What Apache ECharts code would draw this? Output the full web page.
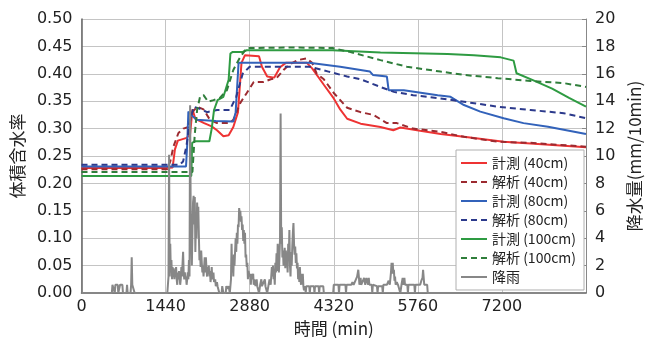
<!DOCTYPE html>
<html>
<head>
<meta charset="utf-8">
<script src="https://cdn.jsdelivr.net/npm/echarts@6/dist/echarts.min.js"></script>
<style>
  html, body { margin: 0; padding: 0; background: #fff; }
  #chart { width: 648px; height: 338px; }
</style>
</head>
<body>
<div id="chart"></div>
<script>
// [time (min), volumetric water content]
const measured40 = [[0,0.228],[1440,0.228],[1560,0.229],[1600,0.262],[1650,0.278],[1800,0.283],[1860,0.29],[1900,0.335],[1950,0.318],[2100,0.31],[2230,0.304],[2320,0.297],[2430,0.286],[2520,0.288],[2600,0.303],[2680,0.33],[2740,0.42],[2800,0.434],[3040,0.432],[3090,0.413],[3180,0.395],[3300,0.393],[3400,0.412],[3500,0.42],[3860,0.42],[3950,0.41],[4150,0.38],[4320,0.355],[4430,0.335],[4550,0.318],[4780,0.309],[5120,0.303],[5340,0.297],[5460,0.302],[5800,0.296],[6150,0.29],[6550,0.285],[7230,0.276],[7690,0.273],[8640,0.266]];
const analysis40 = [[0,0.226],[1470,0.226],[1520,0.24],[1574,0.267],[1660,0.292],[1745,0.30],[1831,0.303],[1900,0.33],[1980,0.34],[2090,0.335],[2200,0.316],[2320,0.31],[2540,0.31],[2600,0.316],[2720,0.347],[2830,0.365],[2950,0.385],[3120,0.385],[3240,0.39],[3340,0.392],[3460,0.407],[3550,0.416],[3700,0.425],[3850,0.428],[3950,0.42],[4030,0.40],[4150,0.39],[4320,0.365],[4550,0.338],[4780,0.33],[5000,0.325],[5230,0.31],[5400,0.31],[5680,0.30],[6150,0.294],[6550,0.285],[7130,0.276],[7690,0.274],[8640,0.267]];
const measured80 = [[0,0.231],[1790,0.231],[1810,0.27],[1830,0.331],[1880,0.325],[1970,0.316],[2300,0.314],[2600,0.313],[2640,0.33],[2690,0.42],[3900,0.42],[4430,0.413],[4940,0.404],[4990,0.398],[5230,0.395],[5260,0.37],[5520,0.37],[6100,0.361],[6320,0.358],[6550,0.343],[6830,0.331],[7230,0.319],[7570,0.31],[7990,0.3035],[8640,0.29]];
const analysis80 = [[0,0.234],[1680,0.234],[1740,0.24],[1800,0.27],[1850,0.31],[1920,0.34],[2030,0.336],[2150,0.33],[2320,0.334],[2540,0.334],[2650,0.358],[2760,0.40],[2880,0.413],[3900,0.413],[4230,0.404],[4550,0.395],[4780,0.39],[5120,0.376],[5350,0.367],[5680,0.361],[6150,0.355],[6550,0.349],[7130,0.34],[7690,0.334],[8260,0.328],[8640,0.319]];
const measured100 = [[0,0.2135],[1880,0.2135],[1895,0.274],[1950,0.277],[2190,0.277],[2230,0.30],[2270,0.334],[2330,0.352],[2430,0.358],[2520,0.389],[2550,0.437],[2590,0.44],[2760,0.44],[2830,0.443],[4300,0.443],[5120,0.439],[6270,0.436],[6720,0.434],[7180,0.43],[7400,0.424],[7450,0.401],[7720,0.389],[8060,0.373],[8350,0.356],[8640,0.34]];
const analysis100 = [[0,0.221],[1900,0.221],[1940,0.29],[1980,0.334],[2030,0.358],[2090,0.361],[2170,0.349],[2260,0.352],[2370,0.356],[2490,0.37],[2600,0.407],[2720,0.431],[2830,0.447],[3600,0.448],[4300,0.447],[4590,0.44],[5120,0.425],[5570,0.413],[6150,0.404],[6550,0.398],[7130,0.392],[7690,0.387],[8260,0.383],[8640,0.376]];

// [time (min), rainfall (mm/10min)]
const rainfall = [[0,0],[520,0],[530,0.6],[560,0.6],[570,0],[580,0.6],[620,0.6],[630,0],[650,0],[660,0.6],[700,0.6],[710,0],[770,0],[780,0.6],[790,0],[840,0],[850,0.6],[860,2.6],[870,0.6],[900,0.6],[910,0],
  [1470,0],[1480,0.6],[1490,1.2],[1500,10.1],[1510,1.2],[1520,3.6],[1530,1.5],[1540,2.4],[1550,1.0],[1560,1.9],[1570,1.2],[1580,1.8],[1590,1.0],[1600,1.6],[1610,1.2],[1620,1.9],[1630,1.0],[1640,0.6],[1650,1.5],[1660,1.0],[1670,1.6],[1680,1.2],[1690,0.6],[1700,1.0],[1710,1.9],[1720,1.2],[1740,3.0],[1750,1.5],[1760,1.0],[1770,1.5],[1780,1.0],[1790,1.2],[1800,0.6],[1810,1.0],[1820,1.5],[1830,1.0],[1840,2.4],[1850,1.2],
  [1860,13.7],[1870,6.0],[1880,4.0],[1890,2.0],[1900,4.5],[1910,6.6],[1920,7.1],[1930,5.0],[1940,7.0],[1950,3.0],[1960,5.3],[1970,4.0],[1980,6.6],[1990,5.5],[2000,6.3],[2010,4.2],[2020,2.4],[2030,3.1],[2040,1.9],[2050,3.1],[2060,2.2],[2070,1.5],[2080,2.0],[2090,1.2],[2100,1.9],[2110,2.6],[2120,1.5],[2130,2.6],[2140,1.8],[2150,1.2],[2160,1.9],[2170,1.5],[2180,2.0],[2190,1.2],[2200,1.6],[2210,0.8],[2220,1.2],[2230,1.9],[2240,1.0],[2260,1.5],[2270,0.8],[2290,1.0],[2300,0.5],[2320,0.8],[2330,0.5],[2350,0.5],[2360,0],[2400,0],[2410,0.5],[2430,0],[2470,0],[2480,0.5],[2500,0.3],[2520,0.5],[2540,0],
  [2560,1.0],[2570,3.6],[2580,1.5],[2590,2.4],[2600,1.2],[2610,2.8],[2620,2.0],[2640,4.0],[2650,3.0],[2660,4.4],[2670,3.6],[2680,5.0],[2690,4.8],[2700,6.2],[2710,5.8],[2720,6.0],[2730,5.2],[2740,5.6],[2750,4.6],[2760,5.0],[2770,3.8],[2780,4.6],[2790,3.6],[2800,4.4],[2810,2.6],[2820,2.8],[2830,1.9],[2840,2.2],[2850,1.0],[2860,1.6],[2880,1.2],[2890,1.4],[2900,0.6],[2910,1.4],[2920,1.0],[2940,1.4],[2950,0.6],[2960,1.0],[2980,0.5],[3000,1.0],[3010,0.5],[3030,0.5],[3040,0],[3060,0.6],[3080,1.0],[3090,0.5],[3120,0.5],[3140,1.0],[3150,0.5],[3170,0.6],[3180,0],[3200,0.5],[3220,1.0],[3240,0.6],
  [3260,1.9],[3270,1.2],[3280,2.0],[3290,1.0],[3300,1.4],[3310,0.6],[3320,2.2],[3330,1.5],[3340,2.9],[3350,1.6],[3360,3.6],[3370,2.2],[3380,1.5],[3390,2.6],[3400,4.0],[3410,13.1],[3420,3.6],[3430,4.8],[3440,2.6],[3450,3.1],[3460,2.0],[3470,2.6],[3480,3.3],[3490,1.8],[3500,3.1],[3510,2.2],[3520,2.6],[3530,1.5],[3540,3.6],[3550,2.4],[3560,4.6],[3570,2.0],[3580,1.2],[3590,3.0],[3600,2.0],[3610,3.4],[3620,4.4],[3630,5.1],[3640,3.6],[3650,2.8],[3660,3.4],[3670,2.2],[3680,2.9],[3690,1.8],[3700,2.2],[3710,1.0],[3720,1.7],[3730,0.8],[3740,1.9],[3750,1.0],[3760,0.6],[3770,1.4],[3780,0.6],[3790,1.4],[3800,0.5],[3810,0.2],
  [3830,0.5],[3840,0],[3850,0.5],[3900,0.5],[3910,0],[3920,0.5],[3980,0.5],[3990,0],[4000,0.5],[4060,0.5],[4070,0],[4080,0.5],[4140,0.5],[4150,0],[4310,0],[4320,0.6],[4400,0.6],[4410,0],[4420,0.6],[4520,0.6],[4530,0],[4540,0.6],[4620,0.6],[4640,0.8],[4660,0.6],[4700,1.0],[4720,1.2],[4740,1.7],[4750,1.2],[4760,0.6],[4780,1.1],[4790,0.6],[4810,0.8],[4840,1.1],[4860,0.6],[4880,1.1],[4900,1.1],[4910,0.6],[4920,1.1],[4930,0.6],[4970,0.6],[4980,0],[4990,0.6],
  [5060,0.5],[5070,0],[5080,0.5],[5150,0.5],[5160,0],[5170,0.6],[5230,0.6],[5260,0.9],[5280,0.6],[5300,1.5],[5310,2.2],[5320,1.4],[5330,2.2],[5340,1.5],[5350,1.7],[5360,0.9],[5370,1.2],[5380,0.6],[5400,0.8],[5420,0.6],[5450,0.6],[5460,0],[5480,0.6],[5500,1.1],[5510,0.6],[5530,1.1],[5540,0.6],[5580,0.6],[5590,0],[5600,0.6],[5700,0.6],[5710,0],[5720,0.6],[5800,0.6],[5820,0.9],[5840,1.1],[5850,1.7],[5860,1.7],[5870,0.6],[5920,0.6],[5930,0],[8640,0]];

const legendNames = ['計測 (40cm)', '解析 (40cm)', '計測 (80cm)', '解析 (80cm)', '計測 (100cm)', '解析 (100cm)', '降雨'];

const chart = echarts.init(document.getElementById('chart'), null, { renderer: 'canvas' });

const numFont = 'DejaVu Sans';
const jpFont = 'Noto Sans CJK JP';
const solidIcon = 'path://M0,0h26v2h-26z';
const dashIcon = 'path://M0,0h6v2h-6z M10,0h6v2h-6z M20,0h6v2h-6z';

function lineSeries(name, data, color, dashed) {
  return {
    name: name,
    type: 'line',
    data: data,
    showSymbol: false,
    symbol: 'none',
    animation: false,
    lineStyle: { color: color, width: 2, type: dashed ? [6, 4] : 'solid' },
    itemStyle: { color: color },
  };
}

const option = {
  backgroundColor: '#fff',
  animation: false,
  grid: { left: 81.5, right: 62, top: 19, bottom: 45, outerBoundsMode: 'none' },
  legend: {
    data: legendNames.map((n, i) => ({ name: n, icon: (i % 2 === 1) ? dashIcon : solidIcon })),
    orient: 'vertical',
    left: 456,
    top: 150,
    itemWidth: 26,
    itemHeight: 12,
    itemGap: 5,
    padding: [6, 8, 6, 5],
    backgroundColor: '#fff',
    borderColor: '#b0b0b0',
    borderWidth: 1,
    textStyle: { fontFamily: jpFont, fontSize: 14, color: '#222' },
  },
  xAxis: {
    type: 'value',
    min: 0,
    max: 8640,
    interval: 1440,
    name: '時間 (min)',
    nameLocation: 'middle',
    nameGap: 26,
    nameTextStyle: { fontFamily: jpFont, fontSize: 17, color: '#222' },
    axisLine: { lineStyle: { color: '#666', width: 1.5 } },
    axisTick: { show: false },
    axisLabel: {
      fontFamily: numFont, fontSize: 16, color: '#222', margin: 6,
      formatter: v => (v === 8640 ? '' : String(v)),
    },
    splitLine: { show: true, lineStyle: { color: '#c4c4c4', width: 1 } },
  },
  yAxis: [
    {
      type: 'value',
      min: 0,
      max: 0.5,
      interval: 0.05,
      name: '体積含水率',
      nameLocation: 'middle',
      nameRotate: 90,
      nameGap: 52,
      nameTextStyle: { fontFamily: jpFont, fontSize: 17, color: '#222' },
      axisLine: { show: true, lineStyle: { color: '#666', width: 1.5 } },
      axisTick: { show: false },
      axisLabel: { fontFamily: numFont, fontSize: 16, color: '#222', margin: 9, formatter: v => v.toFixed(2) },
      splitLine: { show: true, lineStyle: { color: '#c4c4c4', width: 1 } },
    },
    {
      type: 'value',
      min: 0,
      max: 20,
      interval: 2,
      name: '降水量(mm/10min)',
      nameLocation: 'middle',
      nameRotate: 90,
      nameGap: 40,
      nameTextStyle: { fontFamily: jpFont, fontSize: 17, color: '#222' },
      axisLine: { show: true, lineStyle: { color: '#888', width: 1 } },
      axisTick: { show: true, length: 4, inside: true, lineStyle: { color: '#888' } },
      axisLabel: { fontFamily: numFont, fontSize: 16, color: '#222', margin: 9 },
      splitLine: { show: false },
    },
  ],
  series: [
    lineSeries(legendNames[0], measured40, '#ee3333', false),
    lineSeries(legendNames[1], analysis40, '#9c2a30', true),
    lineSeries(legendNames[2], measured80, '#3262ba', false),
    lineSeries(legendNames[3], analysis80, '#2c3a8c', true),
    lineSeries(legendNames[4], measured100, '#2e9b42', false),
    lineSeries(legendNames[5], analysis100, '#2f7e3b', true),
    Object.assign(lineSeries(legendNames[6], rainfall, '#878787', false), { yAxisIndex: 1 }),
  ],
};

chart.setOption(option);
</script>
</body>
</html>
